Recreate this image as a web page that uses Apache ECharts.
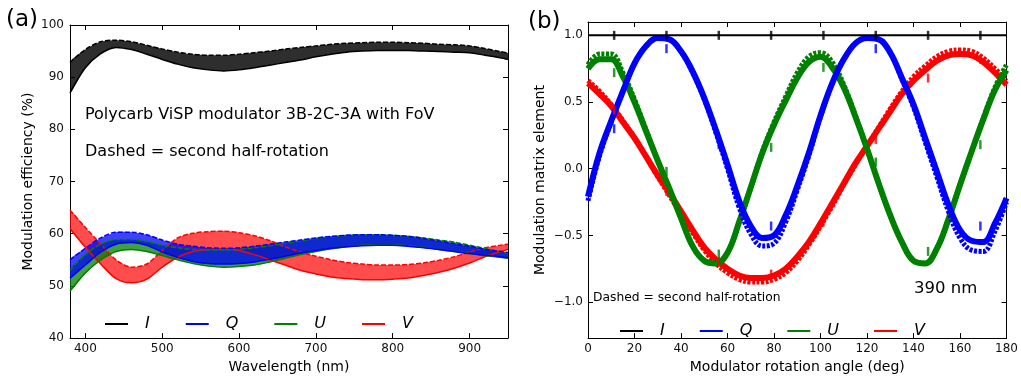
<!DOCTYPE html>
<html><head><meta charset="utf-8">
<script src="https://cdn.jsdelivr.net/npm/echarts@6/dist/echarts.min.js"></script>
<style>html,body{margin:0;padding:0;background:#fff}#c{width:1021px;height:379px}</style>
</head><body><div id="c"></div>
<script>
// ---------- Panel (a): modulation efficiency vs wavelength (band edges) ----------
const wavelengths = [380,400,420,440,460,480,500,520,540,560,580,600,620,640,660,680,700,720,740,760,780,800,820,840,860,880,900,920,940,950];
const I_hi = [92.8,95.3,96.8,97.1,96.8,96.1,95.4,94.8,94.4,94.2,94.2,94.4,94.7,95.0,95.4,95.7,96.0,96.3,96.5,96.6,96.7,96.7,96.6,96.5,96.3,96.2,96.0,95.5,94.9,94.6];
const I_lo = [87.0,91.8,94.5,95.7,95.3,94.4,93.4,92.5,91.8,91.4,91.2,91.4,91.8,92.3,92.8,93.3,93.9,94.4,94.8,95.0,95.1,95.1,95.1,95.0,94.9,94.8,94.7,94.2,93.7,93.4];
const Q_hi = [55.0,57.2,59.2,60.3,60.3,59.8,58.8,58.0,57.6,57.3,57.2,57.3,57.6,58.0,58.4,58.8,59.2,59.5,59.7,59.8,59.8,59.7,59.5,59.1,58.6,58.1,57.6,57.0,56.6,56.4];
const Q_lo = [51.5,54.0,56.5,58.0,58.3,57.8,56.5,55.5,54.7,54.3,54.2,54.3,54.6,55.1,55.7,56.3,56.8,57.2,57.5,57.7,57.8,57.8,57.6,57.3,57.0,56.6,56.2,55.9,55.6,55.4];
const U_hi = [53.0,56.0,58.0,58.9,58.9,58.5,57.8,57.3,57.0,56.9,56.9,57.0,57.3,57.7,58.2,58.6,59.1,59.4,59.7,59.8,59.8,59.7,59.5,59.2,58.8,58.4,57.8,57.2,56.5,56.2];
const U_lo = [49.0,52.5,55.0,56.6,57.0,56.6,55.8,55.0,54.3,53.8,53.6,53.7,54.0,54.6,55.3,56.0,56.6,57.1,57.5,57.8,57.9,57.9,57.7,57.4,57.0,56.6,56.2,55.8,55.5,55.3];
const V_hi = [64.5,61.2,58.0,55.0,53.6,54.2,56.8,59.2,60.1,60.4,60.5,60.2,59.6,58.7,57.5,56.5,55.7,55.0,54.5,54.2,54.0,54.0,54.1,54.4,54.9,55.6,56.5,57.3,57.8,58.0];
const V_lo = [61.0,57.4,54.2,51.4,50.6,51.3,53.6,55.5,56.6,57.0,57.1,56.8,56.0,55.0,54.0,53.0,52.3,51.7,51.4,51.2,51.2,51.3,51.5,52.0,52.6,53.4,54.4,55.6,56.6,57.0];
const xTicksA = [400,500,600,700,800,900];

// ---------- Panel (b): modulation matrix elements vs rotation angle ----------
const angles = [0,5,10,15,20,25,30,35,40,45,50,55,60,65,70,75,80,85,90,95,100,105,110,115,120,125,130,135,140,145,150,155,160,165,170,175,180];
const I_b = [1,1,1,1,1,1,1,1,1,1,1,1,1,1,1,1,1,1,1,1,1,1,1,1,1,1,1,1,1,1,1,1,1,1,1,1,1];
// first half-rotation (solid)
const Q_b = [-0.21,0.12,0.36,0.58,0.79,0.92,0.98,0.97,0.88,0.73,0.53,0.29,0.03,-0.24,-0.43,-0.52,-0.50,-0.35,-0.13,0.12,0.40,0.64,0.82,0.94,0.98,0.97,0.87,0.68,0.48,0.23,-0.02,-0.27,-0.46,-0.54,-0.55,-0.41,-0.22];
const U_b = [0.75,0.82,0.82,0.69,0.50,0.28,0.06,-0.15,-0.37,-0.58,-0.69,-0.71,-0.63,-0.40,-0.14,0.12,0.33,0.51,0.68,0.80,0.84,0.76,0.61,0.39,0.15,-0.11,-0.35,-0.55,-0.69,-0.71,-0.60,-0.38,-0.12,0.13,0.37,0.59,0.74];
const V_b = [0.64,0.56,0.47,0.35,0.23,0.09,-0.05,-0.18,-0.32,-0.46,-0.59,-0.68,-0.75,-0.80,-0.82,-0.82,-0.80,-0.75,-0.66,-0.55,-0.41,-0.26,-0.11,0.04,0.17,0.30,0.43,0.56,0.66,0.74,0.81,0.85,0.86,0.85,0.80,0.72,0.63];
// second half-rotation (dashed)
const Q_b2 = [-0.24,0.10,0.35,0.58,0.79,0.92,0.98,0.97,0.88,0.72,0.52,0.27,0.00,-0.29,-0.49,-0.58,-0.56,-0.40,-0.16,0.10,0.39,0.64,0.82,0.94,0.98,0.97,0.87,0.67,0.46,0.20,-0.06,-0.32,-0.52,-0.61,-0.62,-0.47,-0.25];
const U_b2 = [0.78,0.86,0.86,0.72,0.52,0.29,0.06,-0.15,-0.37,-0.58,-0.69,-0.71,-0.63,-0.40,-0.14,0.13,0.35,0.54,0.72,0.84,0.87,0.80,0.63,0.40,0.15,-0.11,-0.35,-0.55,-0.69,-0.71,-0.60,-0.38,-0.12,0.13,0.38,0.61,0.78];
const V_b2 = [0.66,0.58,0.48,0.36,0.23,0.09,-0.06,-0.20,-0.34,-0.48,-0.61,-0.71,-0.78,-0.83,-0.85,-0.85,-0.83,-0.78,-0.69,-0.57,-0.43,-0.28,-0.12,0.03,0.17,0.31,0.45,0.58,0.69,0.77,0.84,0.88,0.89,0.88,0.83,0.75,0.66];
const markAngles = [11.25,33.75,56.25,78.75,101.25,123.75,146.25,168.75];
const I_mk = [1,1,1,1,1,1,1,1];
const Q_mk = [0.30,0.90,0.18,-0.43,0.45,0.90,0.14,-0.43];
const U_mk = [0.72,-0.02,-0.64,0.16,0.76,0.05,-0.62,0.18];
const V_mk = [0.44,-0.17,-0.70,-0.79,-0.40,0.22,0.68,0.82];
const yTicksB = [-1.0,-0.5,0.0,0.5,1.0];
const legendNames = ['I','Q','U','V'];

const FONT = 'DejaVu Sans';
const COL = {I:'#000000', Q:'#0000ff', U:'#008000', V:'#ff0000'};

const chart = echarts.init(document.getElementById('c'), null, {renderer:'canvas', width:1021, height:379});

const axLine = {show:true, onZero:false, lineStyle:{color:'#000', width:1}};
const tick = (vals) => { const t = {show:true, inside:true, length:5, lineStyle:{color:'#000', width:1}}; if (vals) t.customValues = vals; return t; };
const lab = (extra) => Object.assign({fontSize:12, fontFamily:FONT, color:'#111'}, extra||{});
const nameStyle = {fontSize:14, fontFamily:FONT, color:'#000'};
const fmtB = v => (Math.abs(v) < 1e-9 ? '0.0' : v.toFixed(1).replace('-', '\u2212'));

function band(key, lo, hi, opacity) {
  const c = COL[key];
  return [
    {type:'custom', name:key+'_band', xAxisIndex:0, yAxisIndex:0, clip:true, silent:true,
     data:[[wavelengths[0], lo[0]]],
     renderItem:(params, api) => {
       const pts = [];
       for (let i = 0; i < wavelengths.length; i++) pts.push(api.coord([wavelengths[i], hi[i]]));
       for (let i = wavelengths.length - 1; i >= 0; i--) pts.push(api.coord([wavelengths[i], lo[i]]));
       return {type:'polygon', shape:{points:pts, smooth:0.25}, style:{fill:c, opacity:opacity}};
     }},
    {type:'line', name:key+'_lo', xAxisIndex:0, yAxisIndex:0, smooth:0.3, symbol:'none',
     data: wavelengths.map((w,i)=>[w, lo[i]]), lineStyle:{color:c, width:1.5}, itemStyle:{color:c}, silent:true},
    {type:'line', name:key, xAxisIndex:0, yAxisIndex:0, smooth:0.3, symbol:'none',
     data: wavelengths.map((w,i)=>[w, hi[i]]), lineStyle:{color:c, width:1.5, type:[5,2]}, itemStyle:{color:c}}
  ];
}
function curveB(key, vals, width, dashed) {
  const c = COL[key];
  return {type:'line', name: dashed ? key+'_2' : key, xAxisIndex:2, yAxisIndex:2, smooth:0.4, symbol:'none',
    data: angles.map((a,i)=>[a, vals[i]]), lineStyle:{color:c, width:width, type: dashed ? [3,1.5] : 'solid'}, itemStyle:{color:c}};
}
function marksB(key, vals) {
  const c = COL[key];
  return {type:'scatter', name:key+'_mk', xAxisIndex:2, yAxisIndex:2, symbol:'rect', symbolSize:[2.5,9],
    data: markAngles.map((a,i)=>[a, vals[i]]), itemStyle:{color:c}, z:5};
}

const legendBase = {data: legendNames, icon:'rect', itemWidth:23, itemHeight:2, selectedMode:false,
  textStyle:{fontStyle:'italic', fontSize:16, fontFamily:FONT, color:'#000', padding:[0,0,0,12]}};

const option = {
  animation:false,
  backgroundColor:'#fff',
  grid:[
    {left:70, top:25, width:438, height:316},
    {left:588, top:22, width:419, height:321}
  ],
  xAxis:[
    {gridIndex:0, type:'value', position:'bottom', min:380, max:950, axisLine:axLine, axisTick:tick(xTicksA),
     axisLabel:lab({customValues:xTicksA, margin:5}), splitLine:{show:false},
     name:'Wavelength (nm)', nameLocation:'middle', nameGap:20, nameTextStyle:nameStyle},
    {gridIndex:0, type:'value', position:'top', min:380, max:950, axisLine:axLine, axisTick:tick(xTicksA),
     axisLabel:{show:false, customValues:xTicksA}, splitLine:{show:false}},
    {gridIndex:1, type:'value', position:'bottom', min:0, max:180, interval:20, axisLine:axLine, axisTick:tick(),
     axisLabel:lab({margin:5}), splitLine:{show:false},
     name:'Modulator rotation angle (deg)', nameLocation:'middle', nameGap:21, nameTextStyle:nameStyle},
    {gridIndex:1, type:'value', position:'top', min:0, max:180, interval:20, axisLine:axLine, axisTick:tick(),
     axisLabel:{show:false}, splitLine:{show:false}}
  ],
  yAxis:[
    {gridIndex:0, type:'value', position:'left', min:40, max:100, interval:10, axisLine:axLine, axisTick:tick(),
     axisLabel:lab({margin:6}), splitLine:{show:false},
     name:'Modulation efficiency (%)', nameLocation:'middle', nameGap:35, nameTextStyle:nameStyle},
    {gridIndex:0, type:'value', position:'right', min:40, max:100, interval:10, axisLine:axLine, axisTick:tick(),
     axisLabel:{show:false}, splitLine:{show:false}},
    {gridIndex:1, type:'value', position:'left', min:-1.27, max:1.1, axisLine:axLine, axisTick:tick(yTicksB),
     axisLabel:lab({customValues:yTicksB, margin:5, formatter:fmtB}), splitLine:{show:false},
     name:'Modulation matrix element', nameLocation:'middle', nameGap:41, nameTextStyle:nameStyle},
    {gridIndex:1, type:'value', position:'right', min:-1.27, max:1.1, axisLine:axLine, axisTick:tick(yTicksB),
     axisLabel:{show:false, customValues:yTicksB}, splitLine:{show:false}}
  ],
  legend:[
    Object.assign({}, legendBase, {left:100, top:311, itemGap:36}),
    Object.assign({}, legendBase, {left:615, top:318, itemGap:35})
  ],
  graphic:[
    {type:'text', left:6, top:9, style:{text:'(a)', font:'23px "DejaVu Sans"', fill:'#000'}},
    {type:'text', left:528, top:11, style:{text:'(b)', font:'23px "DejaVu Sans"', fill:'#000'}},
    {type:'text', x:85, y:115, style:{text:'Polycarb ViSP modulator 3B-2C-3A with FoV', font:'16px "DejaVu Sans"', fill:'#000', verticalAlign:'middle'}},
    {type:'text', x:85, y:152, style:{text:'Dashed = second half-rotation', font:'16px "DejaVu Sans"', fill:'#000', verticalAlign:'middle'}},
    {type:'text', x:593, y:298, style:{text:'Dashed = second half-rotation', font:'12.3px "DejaVu Sans"', fill:'#000', verticalAlign:'middle'}},
    {type:'text', x:914, y:289, style:{text:'390 nm', font:'16.5px "DejaVu Sans"', fill:'#000', verticalAlign:'middle'}}
  ],
  series:[].concat(
    band('V', V_lo, V_hi, 0.7),
    band('U', U_lo, U_hi, 0.75),
    band('Q', Q_lo, Q_hi, 0.75),
    band('I', I_lo, I_hi, 0.82),
    [curveB('V', V_b2, 5, true), curveB('V', V_b, 6),
     curveB('U', U_b2, 5, true), curveB('U', U_b, 6),
     curveB('Q', Q_b2, 5, true), curveB('Q', Q_b, 6),
     curveB('I', I_b, 2),
     marksB('V', V_mk), marksB('U', U_mk), marksB('Q', Q_mk), marksB('I', I_mk)]
  )
};
chart.setOption(option);
</script></body></html>
